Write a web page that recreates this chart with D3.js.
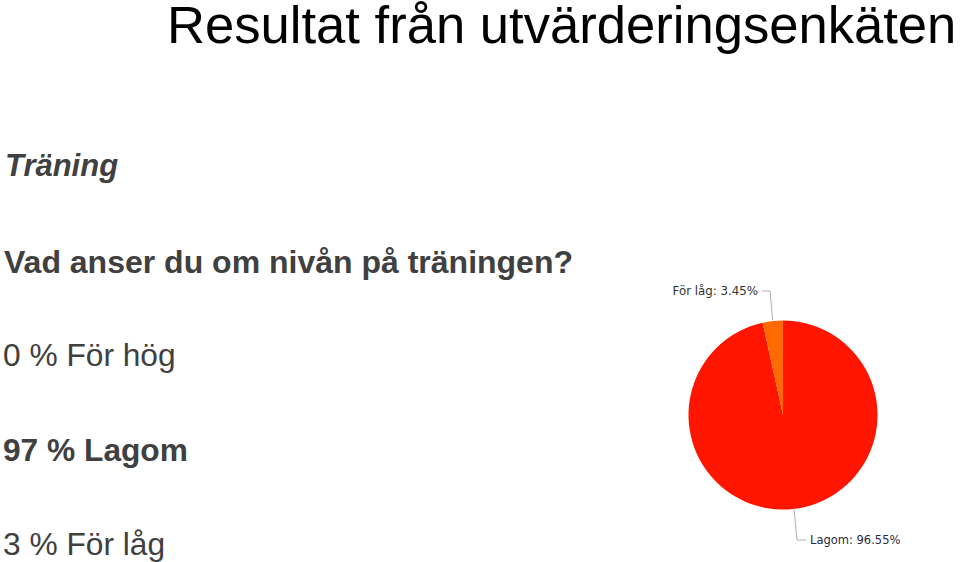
<!DOCTYPE html>
<html><head><meta charset="utf-8">
<script src="https://cdn.jsdelivr.net/npm/d3@7"></script>
<style>html,body{margin:0;padding:0;background:#fff;overflow:hidden}</style>
</head><body>
<svg id="c" width="960" height="562"></svg>
<script>
const title = "Resultat från utvärderingsenkäten";
const section = "Träning";
const question = "Vad anser du om nivån på träningen?";
const categories = ["Lagom", "För låg"];
const values = [96.55, 3.45];
const colors = ["#FF1500", "#FF6A00"];
const listLabels = ["0 % För hög", "97 % Lagom", "3 % För låg"];
const listBold = [false, true, false];

const svg = d3.select("#c");
const sans = "'Liberation Sans', Arial, sans-serif";

svg.append("text").attr("x", 167).attr("y", 43).attr("font-family", sans)
  .attr("font-size", 52.6).attr("fill", "#000").text(title);
svg.append("text").attr("x", 5).attr("y", 176).attr("font-family", sans)
  .attr("font-size", 31).attr("font-weight", "bold").attr("font-style", "italic")
  .attr("fill", "#404040").text(section);
svg.append("text").attr("x", 4).attr("y", 273).attr("font-family", sans)
  .attr("font-size", 32).attr("font-weight", "bold").attr("fill", "#404040").text(question);

const ly = d3.scalePoint().domain(listLabels).range([366, 555]);
listLabels.forEach((t, i) => {
  svg.append("text").attr("x", 3).attr("y", ly(t)).attr("font-family", sans)
    .attr("font-size", 31.7).attr("font-weight", listBold[i] ? "bold" : "normal")
    .attr("fill", "#404040").text(t);
});

const cx = 783, cy = 415, r = 94.5;
const pie = d3.pie().sort(null).value(d => d.v);
const arcs = pie(categories.map((c, i) => ({c, v: values[i], col: colors[i]})));
const arc = d3.arc().innerRadius(0).outerRadius(r);
const g = svg.append("g").attr("transform", `translate(${cx},${cy})`);
g.selectAll("path").data(arcs).enter().append("path")
  .attr("d", arc).attr("fill", d => d.data.col);

const small = "'DejaVu Sans', Verdana, sans-serif";
const lab = svg.append("g");
const a1 = arcs[1];
const m1 = (a1.startAngle + a1.endAngle) / 2;
const p1 = [cx + Math.sin(m1) * (r + 1), cy - Math.cos(m1) * (r + 1)];
lab.append("polyline").attr("points", `${p1[0]},${p1[1]} 770,291 762,291`)
  .attr("fill", "none").attr("stroke", "#b0b0b0").attr("stroke-width", 1);
lab.append("text").attr("x", 758).attr("y", 295).attr("text-anchor", "end")
  .attr("font-family", small).attr("font-size", 11.8).attr("fill", "#333")
  .text(`${categories[1]}: ${values[1].toFixed(2)}%`);
const p0 = [794, cy + r - 1];
lab.append("polyline").attr("points", `${p0[0]},${p0[1]} 797,540 806,540`)
  .attr("fill", "none").attr("stroke", "#b0b0b0").attr("stroke-width", 1);
lab.append("text").attr("x", 810).attr("y", 544)
  .attr("font-family", small).attr("font-size", 11.5).attr("fill", "#2a2a3a")
  .text(`${categories[0]}: ${values[0].toFixed(2)}%`);
</script>
</body></html>
